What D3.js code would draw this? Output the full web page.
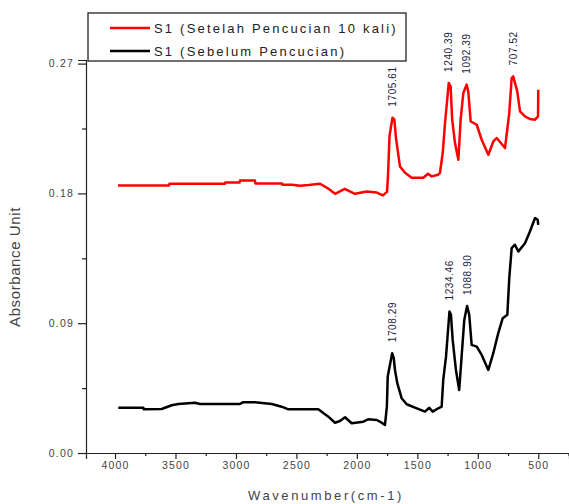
<!DOCTYPE html>
<html>
<head>
<meta charset="utf-8">
<script src="https://cdn.jsdelivr.net/npm/d3@7"></script>
<style>
  body { margin: 0; background: #fff; }
  svg { display: block; font-family: "Liberation Sans", Arial, sans-serif; }
</style>
</head>
<body>
<svg id="chart" width="569" height="504"></svg>
<script>
// series : S1 after washing (red)
const wnAfter = [3975, 3554, 3550, 3091, 3088, 2970, 2966, 2843, 2840, 2619, 2615, 2536, 2470, 2400, 2305, 2240,
  2181, 2100, 2017, 1918, 1835, 1785, 1751, 1743, 1730, 1705.61, 1690, 1677, 1644, 1602, 1547, 1451, 1412, 1381,
  1329, 1313, 1290, 1271, 1240.39, 1225, 1212, 1189, 1161, 1142, 1120, 1092.39, 1079, 1059, 1009, 968, 913, 872,
  844, 775, 740, 720, 707.52, 674, 651, 610, 569, 527, 502, 500];
const absAfter = [0.1855, 0.1855, 0.1867, 0.1867, 0.1876, 0.1876, 0.1890, 0.1890, 0.1869, 0.1869, 0.1860, 0.1860,
  0.1853, 0.1858, 0.1867, 0.1835, 0.1797, 0.1832, 0.1797, 0.1813, 0.1806, 0.1786, 0.1811, 0.1915, 0.2200, 0.2325,
  0.2311, 0.2186, 0.1987, 0.1943, 0.1909, 0.1909, 0.1936, 0.1918, 0.1929, 0.1943, 0.2082, 0.2290, 0.2566, 0.2542,
  0.2311, 0.2151, 0.2033, 0.2311, 0.2496, 0.2554, 0.2507, 0.2299, 0.2276, 0.2172, 0.2068, 0.2160, 0.2184, 0.2115,
  0.2358, 0.2600, 0.2611, 0.2507, 0.2369, 0.2334, 0.2316, 0.2311, 0.2334, 0.2519];

// series : S1 before washing (black)
const wnBefore = [3973, 3766, 3762, 3614, 3531, 3477, 3339, 3297, 2967, 2939, 2843, 2704, 2622, 2567, 2319, 2236,
  2181, 2140, 2098, 2043, 1947, 1906, 1836, 1795, 1768, 1752, 1745, 1708.29, 1695, 1685, 1666, 1630, 1588, 1505,
  1437, 1401, 1373, 1327, 1299, 1286, 1263, 1234.46, 1222, 1208, 1181, 1154, 1134, 1112, 1088.90, 1071, 1051, 1009,
  968, 913, 872, 831, 794, 756, 740, 720, 693, 665, 610, 569, 527, 505, 500];
const absBefore = [0.0314, 0.0314, 0.0303, 0.0305, 0.0331, 0.0340, 0.0349, 0.0340, 0.0340, 0.0352, 0.0352, 0.0340,
  0.0321, 0.0303, 0.0303, 0.0252, 0.0210, 0.0222, 0.0248, 0.0206, 0.0217, 0.0234, 0.0229, 0.0210, 0.0194, 0.0321,
  0.0530, 0.0692, 0.0657, 0.0576, 0.0484, 0.0380, 0.0338, 0.0310, 0.0287, 0.0314, 0.0287, 0.0310, 0.0321, 0.0507,
  0.0668, 0.0981, 0.0958, 0.0784, 0.0576, 0.0437, 0.0668, 0.0923, 0.1020, 0.0958, 0.0750, 0.0738, 0.0680, 0.0576,
  0.0692, 0.0831, 0.0935, 0.0958, 0.1212, 0.1421, 0.1444, 0.1397, 0.1455, 0.1536, 0.1629, 0.1617, 0.1582];

// peak annotations
const peaksAfterWn = [1705.61, 1240.39, 1092.39, 707.52];
const peaksAfterAbs = [0.2325, 0.2566, 0.2554, 0.2611];
const peaksBeforeWn = [1708.29, 1234.46, 1088.90];
const peaksBeforeAbs = [0.0692, 0.0981, 0.1020];

// axes
const xTicks = [4000, 3500, 3000, 2500, 2000, 1500, 1000, 500];
const xMinor = [3750, 3250, 2750, 2250, 1750, 1250, 750, 250];
const yTicks = [0.00, 0.09, 0.18, 0.27];
const yMinor = [0.045, 0.135, 0.225];

const legendLabels = ["S1 (Setelah Pencucian 10 kali)", "S1 (Sebelum Pencucian)"];
const colors = ["#ff0000", "#000000"];

const svg = d3.select("#chart");

const x = d3.scaleLinear().domain([4240, 246]).range([86, 569]);
const y = d3.scaleLinear().domain([0, 0.2725]).range([453, 60]);

// axes : major + minor ticks
const gx = svg.append("g").attr("transform", "translate(0," + y(0) + ")");
gx.call(d3.axisBottom(x).tickValues(xTicks).tickSize(6).tickPadding(3).tickFormat(d3.format("d")));
gx.append("g").call(d3.axisBottom(x).tickValues(xMinor).tickSize(3).tickFormat(""))
  .select(".domain").remove();

const gy = svg.append("g").attr("transform", "translate(" + x(4240) + ",0)");
gy.call(d3.axisLeft(y).tickValues(yTicks).tickSize(8).tickPadding(4).tickFormat(d3.format(".2f")));
gy.append("g").call(d3.axisLeft(y).tickValues(yMinor).tickSize(4).tickFormat(""))
  .select(".domain").remove();

svg.selectAll(".domain").attr("stroke", "#222").attr("stroke-width", 1.2);
svg.selectAll(".tick line").attr("stroke", "#222").attr("stroke-width", 1.2);
svg.selectAll(".tick text")
  .attr("fill", "#444")
  .style("font-size", "10.5px")
  .style("letter-spacing", "1.2px");

// axis titles
svg.append("text")
  .attr("x", 326).attr("y", 500)
  .attr("text-anchor", "middle")
  .attr("fill", "#444")
  .style("font-size", "13px")
  .style("letter-spacing", "2.6px")
  .text("Wavenumber(cm-1)");

svg.append("text")
  .attr("transform", "translate(20,267) rotate(-90)")
  .attr("text-anchor", "middle")
  .attr("fill", "#444")
  .style("font-size", "15px")
  .style("letter-spacing", "0.6px")
  .text("Absorbance Unit");

// spectra
const line = d3.line().x(d => x(d[0])).y(d => y(d[1]));

svg.append("path")
  .datum(d3.zip(wnAfter, absAfter))
  .attr("d", line)
  .attr("fill", "none")
  .attr("stroke", colors[0])
  .attr("stroke-width", 2.5)
  .attr("stroke-linejoin", "round");

svg.append("path")
  .datum(d3.zip(wnBefore, absBefore))
  .attr("d", line)
  .attr("fill", "none")
  .attr("stroke", colors[1])
  .attr("stroke-width", 2.5)
  .attr("stroke-linejoin", "round");

// peak labels
const peaks = d3.zip(peaksAfterWn, peaksAfterAbs).concat(d3.zip(peaksBeforeWn, peaksBeforeAbs));
svg.selectAll(".peak")
  .data(peaks)
  .enter().append("text")
  .attr("class", "peak")
  .attr("transform", d => "translate(" + (x(d[0]) + 3.5) + "," + (y(d[1]) - 11) + ") rotate(-90)")
  .attr("fill", "#1c2440")
  .style("font-size", "10px")
  .style("letter-spacing", "0.6px")
  .text(d => d[0].toFixed(2));

// legend
const legend = svg.append("g");
legend.append("rect")
  .attr("x", 88).attr("y", 13)
  .attr("width", 318).attr("height", 48)
  .attr("fill", "#fff")
  .attr("stroke", "#222")
  .attr("stroke-width", 1.3);

legendLabels.forEach((lab, i) => {
  const ly = 28 + i * 23;
  legend.append("line")
    .attr("x1", 110).attr("x2", 150)
    .attr("y1", ly).attr("y2", ly)
    .attr("stroke", colors[i])
    .attr("stroke-width", 2.5);
  legend.append("text")
    .attr("x", 154).attr("y", ly + 5)
    .attr("fill", "#222")
    .style("font-size", "13px")
    .style("letter-spacing", "2.2px")
    .text(lab);
});
</script>
</body>
</html>
